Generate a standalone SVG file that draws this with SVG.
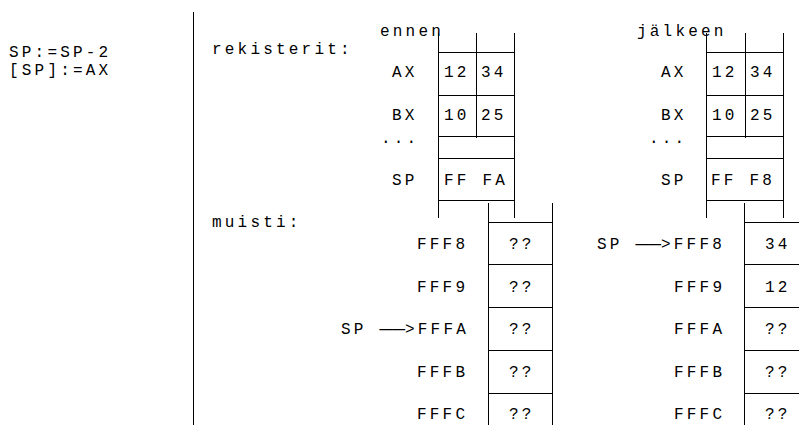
<svg xmlns="http://www.w3.org/2000/svg" width="799" height="425" viewBox="0 0 799 425">
<style>
  text { font-family: "Liberation Mono", "DejaVu Sans Mono", monospace; font-size: 16px; letter-spacing: 3.2px; fill: #000; }
  line { stroke: #000; stroke-width: 1; }
  .dash { letter-spacing: 0px; }
</style>
<rect width="799" height="425" fill="#fff"/>
<g id="instruction">
  <text x="9" y="57">SP:=SP-2</text>
  <text x="9" y="75">[SP]:=AX</text>
</g>
<g id="divider">
  <line x1="193.5" y1="12" x2="193.5" y2="425"/>
</g>
<g id="section-labels">
  <text x="212" y="54">rekisterit:</text>
  <text x="212" y="227">muisti:</text>
  <text x="380" y="36">ennen</text>
  <text x="637" y="36">jälkeen</text>
</g>
<g id="registers-before">
  <line x1="438.5" y1="33" x2="438.5" y2="218"/>
  <line x1="514.5" y1="33" x2="514.5" y2="218"/>
  <line x1="476.5" y1="33" x2="476.5" y2="138"/>
  <line x1="438" y1="52.5" x2="515" y2="52.5"/>
  <line x1="438" y1="95.5" x2="515" y2="95.5"/>
  <line x1="438" y1="136.5" x2="515" y2="136.5"/>
  <line x1="438" y1="158.5" x2="515" y2="158.5"/>
  <line x1="438" y1="200.5" x2="515" y2="200.5"/>
  <text x="392" y="77">AX</text>
  <text x="444" y="77">12</text>
  <text x="481" y="77">34</text>
  <text x="392" y="120">BX</text>
  <text x="444" y="120">10</text>
  <text x="481" y="120">25</text>
  <text x="381" y="143">...</text>
  <text x="392" y="185">SP</text>
  <text x="444" y="185">FF FA</text>
</g>
<g id="registers-after">
  <line x1="706.5" y1="33" x2="706.5" y2="218"/>
  <line x1="783.5" y1="33" x2="783.5" y2="218"/>
  <line x1="745.5" y1="33" x2="745.5" y2="138"/>
  <line x1="706" y1="52.5" x2="784" y2="52.5"/>
  <line x1="706" y1="95.5" x2="784" y2="95.5"/>
  <line x1="706" y1="136.5" x2="784" y2="136.5"/>
  <line x1="706" y1="158.5" x2="784" y2="158.5"/>
  <line x1="706" y1="200.5" x2="784" y2="200.5"/>
  <text x="661" y="77">AX</text>
  <text x="712" y="77">12</text>
  <text x="750" y="77">34</text>
  <text x="661" y="120">BX</text>
  <text x="712" y="120">10</text>
  <text x="750" y="120">25</text>
  <text x="649" y="143">...</text>
  <text x="661" y="185">SP</text>
  <text x="711" y="185">FF F8</text>
</g>
<g id="memory-before">
  <line x1="488.5" y1="203" x2="488.5" y2="425"/>
  <line x1="552.5" y1="203" x2="552.5" y2="425"/>
  <line x1="488" y1="222.5" x2="553" y2="222.5"/>
  <line x1="488" y1="264.5" x2="553" y2="264.5"/>
  <line x1="488" y1="307.5" x2="553" y2="307.5"/>
  <line x1="488" y1="350.5" x2="553" y2="350.5"/>
  <line x1="488" y1="393.5" x2="553" y2="393.5"/>
  <text x="417" y="249">FFF8</text>
  <text x="417" y="291.5">FFF9</text>
  <text x="341" y="334">SP <tspan class="dash" textLength="25.6" lengthAdjust="spacingAndGlyphs">——</tspan>&gt;FFFA</text>
  <text x="417" y="376.5">FFFB</text>
  <text x="417" y="419">FFFC</text>
  <text x="509" y="249">??</text>
  <text x="509" y="291.5">??</text>
  <text x="509" y="334">??</text>
  <text x="509" y="376.5">??</text>
  <text x="509" y="419">??</text>
</g>
<g id="memory-after">
  <line x1="744.5" y1="203" x2="744.5" y2="425"/>
  <line x1="744" y1="222.5" x2="799" y2="222.5"/>
  <line x1="744" y1="264.5" x2="799" y2="264.5"/>
  <line x1="744" y1="307.5" x2="799" y2="307.5"/>
  <line x1="744" y1="350.5" x2="799" y2="350.5"/>
  <line x1="744" y1="393.5" x2="799" y2="393.5"/>
  <text x="597" y="249">SP <tspan class="dash" textLength="25.6" lengthAdjust="spacingAndGlyphs">——</tspan>&gt;FFF8</text>
  <text x="674" y="291.5">FFF9</text>
  <text x="674" y="334">FFFA</text>
  <text x="674" y="376.5">FFFB</text>
  <text x="674" y="419">FFFC</text>
  <text x="765" y="249">34</text>
  <text x="765" y="291.5">12</text>
  <text x="765" y="334">??</text>
  <text x="765" y="376.5">??</text>
  <text x="765" y="419">??</text>
</g>
</svg>
